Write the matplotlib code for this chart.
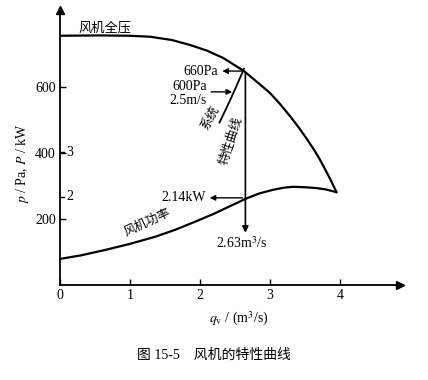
import matplotlib.pyplot as plt
import numpy as np

plt.rcParams['font.family'] = ['Liberation Serif', 'Noto Sans CJK SC']
plt.rcParams['mathtext.fontset'] = 'stix'

# fan total pressure curve (q in m3/s, p in Pa)
q_head = [0, 0.57, 1.0, 1.29, 1.6, 1.86, 2.1, 2.33, 2.63, 2.8, 3.0, 3.15, 3.29, 3.42, 3.53, 3.63, 3.71, 3.79, 3.86, 3.91, 3.95]
p_head = [755, 756, 755, 752, 742, 727, 710, 688, 648, 618, 582, 547, 511, 475, 442, 410, 382, 350, 322, 300, 282]

# fan power curve (q in m3/s, P in kW)
q_pow = [0, 0.3, 0.64, 1.0, 1.36, 1.65, 1.93, 2.2, 2.4, 2.67, 2.85, 3.04, 3.2, 3.33, 3.5, 3.67, 3.8, 3.95]
P_pow = [0.59, 0.67, 0.79, 0.93, 1.09, 1.25, 1.43, 1.61, 1.76, 1.96, 2.07, 2.15, 2.20, 2.22, 2.21, 2.19, 2.16, 2.10]

# system curve p = k q^2 through operating point
q_sys = [2.28, 2.4, 2.5, 2.63]
k_sys = 655 / 2.63**2

kw_scale = 134.0   # Pa per kW on the shared axis

xticks = [0, 1, 2, 3, 4]
yticks = [200, 400, 600]
kw_ticks = [2, 3]

fig = plt.figure(figsize=(4.28, 3.8), dpi=100)
ax = fig.add_axes([60/428, 95/380, 340/428, 275/380])
ax.set_xlim(0, 4.86)
ax.set_ylim(0, 833)
for s in ['top', 'right']:
    ax.spines[s].set_visible(False)
for s in ['left', 'bottom']:
    ax.spines[s].set_linewidth(1.3)
ax.plot(1, 0, '>', color='k', ms=6, transform=ax.transAxes, clip_on=False)
ax.plot(0, 1, '^', color='k', ms=6, transform=ax.transAxes, clip_on=False)

ax.set_xticks(xticks)
ax.set_yticks(yticks)
ax.tick_params(direction='in', length=4, labelsize=10, width=1, pad=3)
ax.set_xticklabels([str(v) for v in xticks])

for v in kw_ticks:
    ax.plot([0, 0.06], [v*kw_scale]*2, color='k', lw=1)
    ax.text(0.09, v*kw_scale, str(v), fontsize=10, va='center', ha='left')

ax.plot(q_head, p_head, color='k', lw=1.6, solid_joinstyle='round')
ax.plot(q_pow, np.array(P_pow)*kw_scale, color='k', lw=1.6, solid_joinstyle='round')
qs = np.array(q_sys)
ax.plot(qs, k_sys*qs**2, color='k', lw=1.3)

# operating point vertical line with arrow
qop = 2.65
ax.annotate('', xy=(qop, 150), xytext=(qop, 652),
            arrowprops=dict(arrowstyle='-|>', color='k', lw=1.2, mutation_scale=9))
ax.annotate('', xy=(2.28, 648), xytext=(qop, 648),
            arrowprops=dict(arrowstyle='-|>', color='k', lw=1.0, mutation_scale=8))
ax.text(2.26, 648, '660Pa', fontsize=10, ha='right', va='center')
ax.annotate('', xy=(2.5, 585), xytext=(2.12, 585),
            arrowprops=dict(arrowstyle='-|>', color='k', lw=1.0, mutation_scale=8))
ax.text(2.1, 600, '600Pa', fontsize=10, ha='right', va='center')
ax.text(2.1, 560, '2.5m/s', fontsize=10, ha='right', va='center')
ax.annotate('', xy=(2.1, 264), xytext=(qop, 264),
            arrowprops=dict(arrowstyle='-|>', color='k', lw=1.0, mutation_scale=8))
ax.text(2.08, 266, '2.14kW', fontsize=10, ha='right', va='center')
ax.text(2.6, 128, r'2.63m$^3$/s', fontsize=10, ha='center', va='center')

ax.text(0.26, 778, '风机全压', fontsize=9.5, ha='left', va='center')
ax.text(2.15, 505, '系统', fontsize=9, ha='center', va='center', rotation=62)
ax.text(2.45, 437, '特性曲线', fontsize=9, ha='center', va='center', rotation=72)
ax.text(1.25, 190, '风机功率', fontsize=9, ha='center', va='center', rotation=25)

ax.set_ylabel(r'$p$ / Pa, $P$ / kW', fontsize=10, labelpad=2)
ax.yaxis.set_label_coords(-0.085, 0.44)
ax.set_xlabel(r'$q_{\rm v}$ / (m$^3$/s)', fontsize=10)
ax.xaxis.set_label_coords(0.525, -0.09)

fig.text(0.5, 25/380, '图 15-5    风机的特性曲线', fontsize=10, ha='center', va='center')

fig.savefig('out.png', dpi=100)
